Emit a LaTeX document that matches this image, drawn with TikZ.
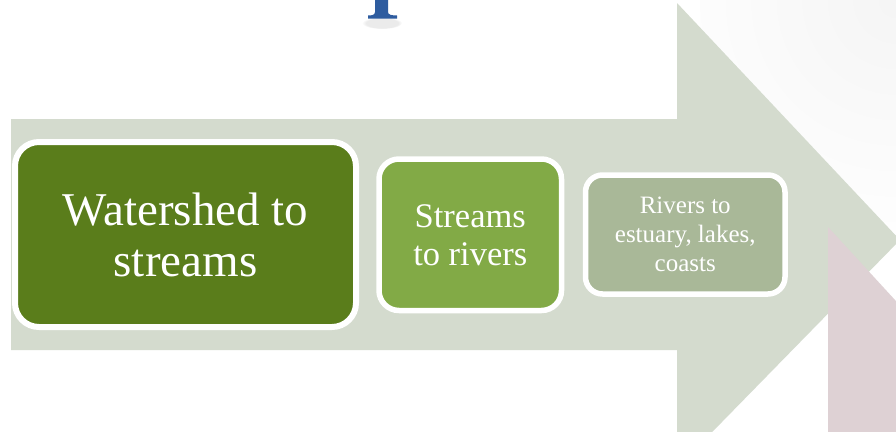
\documentclass[tikz,border=0pt]{standalone}
\usepackage{fontspec}
\setmainfont{Liberation Serif}
\usetikzlibrary{fadings}

\definecolor{arrowfill}{HTML}{D4DBCE}
\definecolor{pinkfill}{HTML}{DED1D4}
\definecolor{titleblue}{HTML}{2E5C9F}
\definecolor{stepdark}{HTML}{5A7D1B}
\definecolor{stepmid}{HTML}{82AA46}
\definecolor{steplight}{HTML}{A9B898}

\tikzset{
  stepbox/.style={draw=white, text=white, align=center, inner sep=0pt},
  bigstep/.style={stepbox, fill=stepdark, line width=6pt, rounded corners=24pt,
    font=\fontsize{47}{51}\selectfont},
  midstep/.style={stepbox, fill=stepmid, line width=5.5pt, rounded corners=20pt,
    font=\fontsize{34.5}{38}\selectfont},
  smallstep/.style={stepbox, fill=steplight, line width=5.5pt, rounded corners=17pt,
    font=\fontsize{25}{29}\selectfont},
}

\begin{document}
\begin{tikzpicture}[x=1pt, y=-1pt]
  \useasboundingbox (0,0) rectangle (896,431);
  \begin{scope}
    \clip (0,0) rectangle (896,431);

    % faint slide shadow in the upper right
    \shade[inner color=black!4, outer color=white] (896,0) circle (260);
    \fill[white] (0,0) rectangle (700,431);

    % descender of the title letter above
    \fill[black!30, path fading=circle with fuzzy edge 20 percent, opacity=0.25]
      (382,23) ellipse (20 and 6);
    \fill[titleblue] (375,-1) -- (375,12)
      .. controls (375,15) and (372,15.5) .. (368,15.5)
      -- (368,18.5) -- (397,18.5) -- (397,15.5)
      .. controls (392,15.5) and (388,15) .. (388,12)
      -- (388,-1) -- cycle;

    % main process arrow
    \fill[arrowfill] (11,119) -- (677,119) -- (677,3) -- (900,240)
      -- (677,468) -- (677,350) -- (11,350) -- cycle;

    % following arrow, partly visible
    \fill[pinkfill] (828,227) -- (940,349) -- (940,440) -- (828,440) -- cycle;
  \end{scope}

  % process steps
  \node[bigstep, minimum width=341pt, minimum height=185pt] (s1)
    at (185.5,234.5) {Watershed to\\streams};
  \node[midstep, minimum width=182.5pt, minimum height=151.5pt] (s2)
    at (470.25,234.75) {Streams\\to rivers};
  \node[smallstep, minimum width=199.5pt, minimum height=119pt] (s3)
    at (685.25,234.5) {Rivers to\\estuary, lakes,\\coasts};
\end{tikzpicture}
\end{document}
